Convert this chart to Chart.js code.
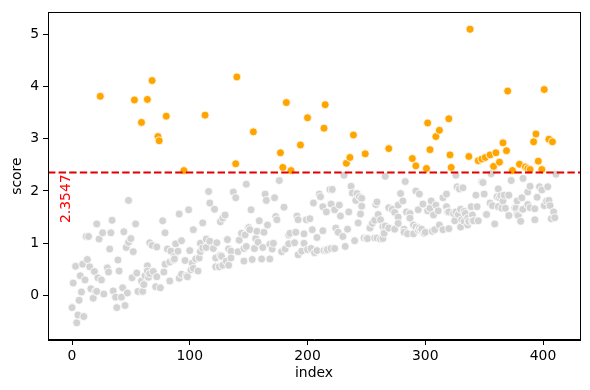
<!DOCTYPE html>
<html>
<head>
<meta charset="utf-8">
<script src="https://cdn.jsdelivr.net/npm/chart.js@4"></script>
<style>
  html, body { margin: 0; padding: 0; background: #fff; }
  canvas { display: block; }
</style>
</head>
<body>
<canvas id="scoreChart" width="590" height="390"></canvas>
<script>
// values (index, score)
const index = [
  0, 1, 3, 4, 5, 6, 7, 8, 9, 10,
  11, 12, 13, 14, 15, 16, 18, 19, 20, 21,
  21, 22, 23, 24, 25, 26, 27, 30, 31, 32,
  33, 34, 35, 37, 38, 39, 40, 42, 43, 44,
  45, 46, 47, 48, 48, 50, 51, 52, 53, 54,
  55, 56, 59, 59, 60, 61, 62, 64, 64, 64,
  65, 66, 66, 68, 68, 69, 71, 72, 72, 73,
  74, 75, 77, 78, 79, 79, 80, 81, 83, 83,
  84, 86, 87, 87, 88, 90, 91, 91, 93, 93,
  95, 96, 97, 98, 99, 100, 101, 102, 103, 103,
  105, 107, 108, 109, 109, 111, 111, 113, 114, 114,
  116, 117, 117, 120, 121, 122, 122, 123, 125, 126,
  126, 127, 128, 128, 130, 131, 132, 133, 133, 135,
  135, 137, 139, 139, 140, 141, 142, 144, 146, 146,
  147, 148, 148, 150, 151, 152, 153, 154, 155, 156,
  157, 158, 159, 161, 162, 163, 164, 165, 166, 168,
  168, 170, 171, 172, 173, 174, 176, 177, 178, 179,
  180, 181, 182, 184, 184, 185, 186, 189, 190, 191,
  192, 192, 194, 195, 197, 197, 199, 200, 200, 202,
  203, 204, 205, 206, 208, 208, 210, 211, 213, 213,
  214, 214, 215, 216, 216, 217, 219, 220, 220, 221,
  223, 223, 224, 226, 227, 228, 230, 231, 232, 233,
  234, 235, 236, 237, 238, 239, 240, 241, 242, 243,
  244, 245, 246, 246, 248, 249, 250, 251, 253, 255,
  257, 257, 258, 259, 259, 260, 262, 262, 264, 264,
  265, 266, 266, 269, 269, 269, 272, 274, 274, 277,
  277, 277, 279, 281, 282, 282, 283, 284, 285, 287,
  287, 289, 290, 290, 292, 292, 292, 294, 294, 295,
  295, 296, 297, 298, 299, 300, 301, 302, 302, 304,
  304, 305, 306, 307, 308, 309, 309, 311, 312, 312,
  315, 315, 318, 318, 319, 320, 320, 320, 321, 322,
  324, 325, 326, 326, 327, 328, 329, 330, 330, 331,
  332, 333, 333, 334, 336, 336, 337, 337, 338, 339,
  340, 340, 341, 343, 344, 345, 345, 348, 348, 349,
  350, 351, 352, 355, 355, 356, 357, 358, 359, 360,
  361, 362, 362, 363, 363, 364, 365, 366, 366, 367,
  368, 369, 370, 371, 371, 373, 374, 376, 377, 378,
  378, 379, 380, 381, 382, 382, 383, 383, 385, 387,
  387, 387, 389, 389, 389, 392, 393, 393, 394, 395,
  396, 397, 399, 399, 401, 401, 403, 404, 405, 405,
  406, 407, 408, 409, 410, 411
];
const score = [
  -0.23, 0.24, 0.56, -0.52, -0.37, -0.09, 0.38, 0.07, 0.60, -0.40,
  0.30, 1.13, 0.69, 1.13, 0.55, 0.13, -0.05, 0.46, 0.08, 1.37,
  0.08, 0.34, 1.08, 3.81, 0.30, 1.20, 0.03, 0.53, 0.45, 0.89,
  1.20, 1.44, 0.09, -0.03, -0.23, 0.68, 0.47, -0.03, 0.15, 1.22,
  -0.19, 0.92, 0.05, 1.82, 1.02, 1.09, 0.34, 0.84, 3.74, 1.37,
  0.43, 0.08, 0.28, 3.31, 0.08, 0.21, 0.38, 0.57, 3.75, 0.47,
  0.35, 0.42, 1.01, 0.96, 4.11, 0.46, 0.17, 0.93, 0.36, 3.04,
  2.96, 0.15, 1.43, 0.45, 1.20, 0.60, 3.43, 0.89, 0.64, 0.28,
  0.85, 0.68, 0.75, 0.70, 0.99, 0.85, 1.56, 0.33, 1.05, 0.41,
  2.39, 0.67, 0.38, 0.36, 1.64, 0.86, 0.49, 0.62, 1.26, 0.52,
  0.70, 0.47, 0.72, 1.00, 0.84, 1.39, 0.91, 3.45, 1.08, 0.92,
  1.99, 1.77, 1.04, 0.90, 1.65, 0.72, 0.55, 1.01, 0.55, 1.41,
  0.77, 0.75, 1.48, 0.58, 1.54, 0.66, 1.07, 0.89, 0.58, 0.85,
  0.72, 1.98, 1.87, 2.52, 4.18, 0.84, 1.06, 1.19, 0.90, 0.66,
  1.16, 2.13, 0.94, 1.30, 1.26, 1.64, 0.69, 3.13, 0.90, 1.09,
  1.23, 1.02, 1.43, 0.70, 0.92, 1.21, 1.94, 1.82, 1.35, 0.98,
  0.70, 0.89, 1.00, 1.87, 1.51, 1.45, 2.20, 2.73, 0.84, 2.45,
  1.69, 0.89, 3.69, 0.99, 1.16, 1.19, 2.39, 1.01, 1.21, 1.52,
  1.45, 0.78, 2.88, 0.85, 1.00, 1.18, 1.45, 3.40, 0.88, 1.47,
  0.90, 1.26, 1.77, 0.82, 1.11, 0.86, 1.94, 1.89, 1.70, 1.24,
  3.20, 0.86, 3.65, 1.60, 0.86, 0.88, 2.03, 1.75, 0.90, 2.03,
  1.64, 0.90, 1.29, 1.21, 1.73, 1.52, 1.13, 2.30, 0.94, 2.53,
  1.27, 1.60, 2.64, 2.09, 1.96, 3.07, 1.05, 1.82, 1.95, 1.39,
  1.89, 1.56, 1.86, 1.71, 1.10, 2.71, 1.09, 1.09, 1.29, 1.38,
  1.44, 1.10, 1.74, 1.79, 1.10, 1.55, 1.45, 1.08, 1.32, 1.09,
  1.19, 2.28, 1.33, 2.81, 1.68, 1.29, 1.65, 1.59, 1.27, 1.50,
  1.73, 1.38, 1.95, 1.81, 1.27, 1.21, 2.18, 1.60, 1.18, 1.57,
  1.48, 2.62, 1.35, 1.18, 2.48, 2.00, 1.31, 1.25, 1.64, 1.94,
  1.29, 1.25, 1.27, 1.75, 1.19, 1.21, 2.43, 3.30, 1.62, 2.79,
  1.67, 1.81, 1.23, 1.54, 1.26, 3.04, 1.73, 1.62, 3.16, 1.35,
  1.87, 1.26, 1.94, 1.70, 1.60, 3.38, 1.60, 1.28, 2.69, 2.45,
  1.57, 1.43, 2.30, 1.60, 2.08, 1.55, 2.04, 1.65, 1.31, 1.45,
  2.06, 1.61, 1.42, 1.57, 1.35, 1.48, 2.66, 1.42, 5.09, 1.70,
  1.54, 1.43, 1.43, 1.92, 1.70, 2.58, 1.43, 2.61, 2.17, 2.16,
  1.94, 2.64, 1.55, 2.69, 1.77, 2.33, 1.72, 2.47, 1.37, 2.73,
  1.89, 2.04, 1.70, 2.55, 1.87, 1.91, 1.67, 2.92, 1.81, 1.92,
  1.67, 2.77, 3.91, 1.92, 1.53, 2.20, 2.39, 1.68, 1.67, 1.81,
  1.55, 1.53, 2.51, 1.42, 1.87, 1.64, 2.24, 1.65, 2.46, 2.43,
  1.98, 1.74, 2.41, 2.09, 1.68, 2.94, 1.66, 1.45, 3.09, 1.88,
  2.57, 2.08, 2.41, 2.02, 3.94, 1.72, 1.81, 2.08, 2.99, 1.82,
  1.72, 1.47, 2.94, 1.60, 1.49, 2.32
];
const threshold = 2.3547;
const xTicks = [0, 100, 200, 300, 400];
const yTicks = [0, 1, 2, 3, 4, 5];

const tickFont = { family: 'DejaVu Sans', size: 13.9 };

const points = index.map(function (v, i) { return { x: v, y: score[i] }; });
const pointColors = score.map(function (v) { return v > threshold ? '#FFA500' : '#D3D3D3'; });

// top/right spines plus the dashed threshold line and its label
const extras = {
    id: 'extras',
    afterDatasetsDraw: function (chart) {
        const ctx = chart.ctx;
        const area = chart.chartArea;
        const yPx = chart.scales.y.getPixelForValue(threshold);
        ctx.save();
        ctx.strokeStyle = '#E00000';
        ctx.lineWidth = 2;
        ctx.setLineDash([7.4, 3.2]);
        ctx.beginPath();
        ctx.moveTo(area.left, yPx);
        ctx.lineTo(area.right, yPx);
        ctx.stroke();
        ctx.restore();

        ctx.save();
        ctx.translate(70, yPx + 2);
        ctx.rotate(-Math.PI / 2);
        ctx.fillStyle = '#FF0000';
        ctx.font = '13.9px "DejaVu Sans"';
        ctx.textAlign = 'right';
        ctx.textBaseline = 'alphabetic';
        ctx.fillText(threshold.toString(), 0, 0);
        ctx.restore();
    },
    afterDraw: function (chart) {
        const ctx = chart.ctx;
        const a = chart.chartArea;
        ctx.save();
        ctx.strokeStyle = '#000';
        ctx.lineWidth = 1;
        ctx.strokeRect(Math.round(a.left) + 0.5, Math.round(a.top) + 0.5,
            Math.round(a.right - a.left), Math.round(a.bottom - a.top));
        ctx.restore();
    }
};

new Chart(document.getElementById('scoreChart'), {
    type: 'scatter',
    data: {
        datasets: [{
            data: points,
            pointRadius: 4,
            pointHoverRadius: 4,
            pointBackgroundColor: pointColors,
            pointBorderColor: '#ffffff',
            pointBorderWidth: 0.8
        }]
    },
    options: {
        responsive: false,
        animation: false,
        layout: { padding: { left: 0, right: 10, top: 8, bottom: 0 } },
        plugins: {
            legend: { display: false },
            tooltip: { enabled: false }
        },
        scales: {
            x: {
                type: 'linear',
                min: -20.4,
                max: 431.4,
                afterBuildTicks: function (s) { s.ticks = xTicks.map(function (v) { return { value: v }; }); },
                afterFit: function (s) { s.height = 50; },
                grid: { drawOnChartArea: false, drawTicks: true, tickLength: 5, tickColor: '#000', tickWidth: 1 },
                border: { display: true, color: '#000', width: 1 },
                ticks: { color: '#000', font: tickFont, padding: 3, maxRotation: 0 },
                title: { display: true, text: 'index', color: '#000', font: tickFont, padding: { top: 0, bottom: 8 } }
            },
            y: {
                type: 'linear',
                min: -0.849,
                max: 5.415,
                afterBuildTicks: function (s) { s.ticks = yTicks.map(function (v) { return { value: v }; }); },
                afterFit: function (s) { s.width = 48; },
                grid: { drawOnChartArea: false, drawTicks: true, tickLength: 5, tickColor: '#000', tickWidth: 1 },
                border: { display: true, color: '#000', width: 1 },
                ticks: { color: '#000', font: tickFont, padding: 4 },
                title: { display: true, text: 'score', color: '#000', font: tickFont, padding: { top: 9, bottom: 0 } }
            }
        }
    },
    plugins: [extras]
});
</script>
</body>
</html>
